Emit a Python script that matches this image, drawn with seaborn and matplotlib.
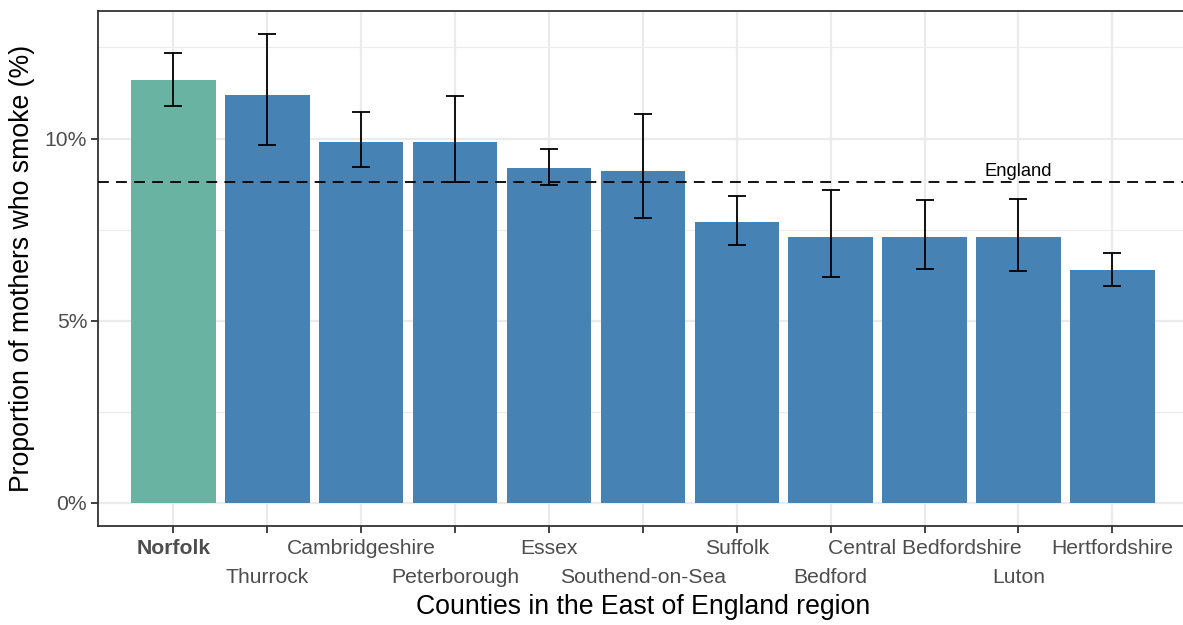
"""
Smoking at time of delivery - East of England counties vs England average.
Saves out.png
"""

import numpy as np
import pandas as pd
import matplotlib.pyplot as plt
import seaborn as sns

# ── data ─────────────────────────────────────────────────────────────────────
COUNTIES = ["Norfolk", "Thurrock", "Cambridgeshire", "Peterborough", "Essex",
            "Southend-on-Sea", "Suffolk", "Bedford", "Central Bedfordshire",
            "Luton", "Hertfordshire"]
SMOKE_PCT = [11.6, 11.2, 9.9, 9.9, 9.2, 9.1, 7.7, 7.3, 7.3, 7.3, 6.4]
CI_LOW    = [10.88, 9.81, 9.23, 8.81, 8.71, 7.82, 7.07, 6.21, 6.41, 6.36, 5.95]
CI_HIGH   = [12.35, 12.87, 10.73, 11.18, 9.70, 10.66, 8.41, 8.58, 8.31, 8.33, 6.86]
ENGLAND   = 8.8
HIGHLIGHT = "Norfolk"

# ── style ────────────────────────────────────────────────────────────────────
sns.set_theme(style="white")
plt.rcParams.update({
    "font.family":      ["Liberation Sans", "DejaVu Sans"],
    "axes.edgecolor":   "#333333",
    "axes.linewidth":   1.3,
    "xtick.color":      "#333333",
    "ytick.color":      "#333333",
    "xtick.labelcolor": "#4D4D4D",
    "ytick.labelcolor": "#4D4D4D",
})

HL_COL   = "#69b3a2"
BASE_COL = "#4682B4"
GRID_COL = "#EBEBEB"
TICK_FS  = 15.2

df = pd.DataFrame({"county": COUNTIES, "pct": SMOKE_PCT,
                   "lo": CI_LOW, "hi": CI_HIGH})
palette = {c: (HL_COL if c == HIGHLIGHT else BASE_COL) for c in COUNTIES}

fig = plt.figure(figsize=(11.83, 6.25), dpi=100)
ax = fig.add_axes([0.0831, 0.1584, 0.9207, 0.8245])

# grid first so bars sit on top
for y in [2.5, 7.5, 12.5]:
    ax.axhline(y, color=GRID_COL, lw=0.8, zorder=0)
for y in [0, 5, 10]:
    ax.axhline(y, color=GRID_COL, lw=1.6, zorder=0)
for x in range(len(COUNTIES)):
    ax.axvline(x, color=GRID_COL, lw=1.6, zorder=0)

sns.barplot(data=df, x="county", y="pct", hue="county", palette=palette,
            order=COUNTIES, width=0.9, saturation=1, legend=False,
            errorbar=None, linewidth=0, ax=ax, zorder=2)

xs = np.arange(len(COUNTIES))
ax.errorbar(xs, df["pct"],
            yerr=[df["pct"] - df["lo"], df["hi"] - df["pct"]],
            fmt="none", ecolor="black", elinewidth=1.3, capsize=6.7,
            capthick=1.3, zorder=3)

ax.axhline(ENGLAND, color="black", ls=(0, (6, 4)), lw=1.3, zorder=4)
ax.text(9, ENGLAND + 0.07, "England", ha="center", va="bottom",
        fontsize=13.2, color="black", zorder=5)

ax.set_xlim(-0.8, 10.8)
ax.set_ylim(-0.64, 13.51)
ax.set_yticks([0, 5, 10])
ax.set_yticklabels(["0%", "5%", "10%"], fontsize=TICK_FS)

# dodge the x labels over two rows: even ones on major ticks, odd on minor
ax.set_xticks(xs[::2])
ax.set_xticklabels(COUNTIES[::2], fontsize=TICK_FS)
ax.set_xticks(xs[1::2], minor=True)
ax.set_xticklabels(COUNTIES[1::2], minor=True, fontsize=TICK_FS)
ax.get_xticklabels()[0].set_fontweight("bold")

ax.tick_params(axis="both", which="both", length=5, width=1.3,
               direction="out", bottom=True, left=True)
ax.tick_params(axis="x", which="major", pad=4)
ax.tick_params(axis="x", which="minor", pad=25)
ax.tick_params(axis="y", pad=3)

ax.set_xlabel("Counties in the East of England region", fontsize=19.2,
              color="black", labelpad=5)
ax.set_ylabel("Proportion of mothers who smoke (%)", fontsize=19.2,
              color="black", labelpad=7)

for side in ["top", "bottom", "left", "right"]:
    ax.spines[side].set_visible(True)

fig.savefig("out.png", dpi=100)
